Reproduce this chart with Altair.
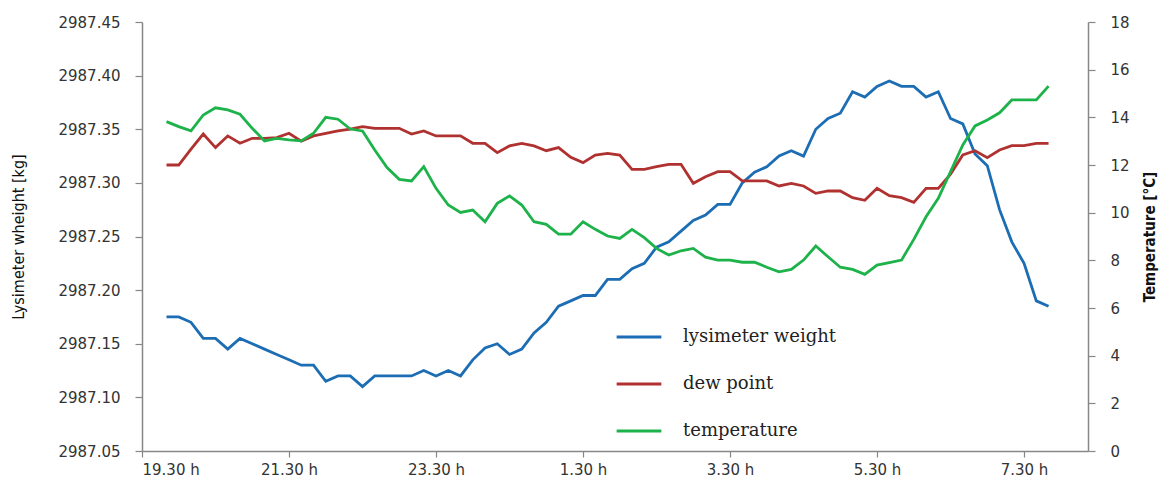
import altair as alt
import pandas as pd

# time grid: minutes after 19:30 (19:50 ... 07:50, every 10 min)
minutes = [20 + 10 * k for k in range(73)]

x_tick_labels = ["19.30 h", "21.30 h", "23.30 h", "1.30 h", "3.30 h", "5.30 h", "7.30 h"]
x_tick_values = [0, 2, 4, 6, 8, 10, 12]

weight = [
    2987.175, 2987.175, 2987.170, 2987.155, 2987.155, 2987.145, 2987.155, 2987.150, 2987.145, 2987.140,
    2987.135, 2987.130, 2987.130, 2987.115, 2987.120, 2987.120, 2987.110, 2987.120, 2987.120, 2987.120,
    2987.120, 2987.125, 2987.120, 2987.125, 2987.120, 2987.135, 2987.146, 2987.150, 2987.140, 2987.145,
    2987.160, 2987.170, 2987.185, 2987.190, 2987.195, 2987.195, 2987.210, 2987.210, 2987.220, 2987.225,
    2987.240, 2987.245, 2987.255, 2987.265, 2987.270, 2987.280, 2987.280, 2987.300, 2987.310, 2987.315,
    2987.325, 2987.330, 2987.325, 2987.350, 2987.360, 2987.365, 2987.385, 2987.380, 2987.390, 2987.395,
    2987.390, 2987.390, 2987.380, 2987.385, 2987.360, 2987.355, 2987.327, 2987.316, 2987.275, 2987.245,
    2987.225, 2987.190, 2987.185,
]

dew_point = [
    12.00, 12.00, 12.67, 13.30, 12.73, 13.22, 12.91, 13.12, 13.12, 13.15,
    13.33, 13.00, 13.22, 13.33, 13.43, 13.51, 13.61, 13.54, 13.54, 13.54,
    13.30, 13.43, 13.22, 13.22, 13.22, 12.91, 12.91, 12.52, 12.80, 12.91,
    12.80, 12.60, 12.73, 12.32, 12.10, 12.42, 12.49, 12.42, 11.82, 11.82,
    11.93, 12.03, 12.03, 11.23, 11.51, 11.72, 11.72, 11.33, 11.33, 11.33,
    11.12, 11.23, 11.12, 10.81, 10.91, 10.91, 10.63, 10.52, 11.02, 10.71,
    10.63, 10.43, 11.02, 11.02, 11.62, 12.42, 12.60, 12.31, 12.63, 12.81,
    12.81, 12.91, 12.91,
]

temperature = [
    13.82, 13.61, 13.43, 14.10, 14.40, 14.31, 14.13, 13.54, 13.01, 13.12,
    13.05, 13.01, 13.33, 14.00, 13.92, 13.51, 13.43, 12.63, 11.89, 11.40,
    11.33, 11.93, 11.02, 10.32, 10.01, 10.11, 9.62, 10.39, 10.70, 10.32,
    9.62, 9.51, 9.10, 9.10, 9.62, 9.30, 9.02, 8.92, 9.30, 8.95,
    8.50, 8.22, 8.40, 8.50, 8.13, 8.01, 8.01, 7.92, 7.92, 7.71,
    7.52, 7.62, 8.01, 8.60, 8.15, 7.71, 7.62, 7.41, 7.80, 7.90,
    8.01, 8.88, 9.83, 10.60, 11.72, 12.84, 13.64, 13.89, 14.19, 14.73,
    14.73, 14.73, 15.31,
]

series_names = ["lysimeter weight", "dew point", "temperature"]
series_colors = ["#1c6db3", "#b03230", "#1db24a"]

left_ticks = [2987.05, 2987.10, 2987.15, 2987.20, 2987.25, 2987.30, 2987.35, 2987.40, 2987.45]
right_ticks = [0, 2, 4, 6, 8, 10, 12, 14, 16, 18]

hours = [m / 60 for m in minutes]
df_w = pd.DataFrame({"t": hours, "value": weight, "series": series_names[0]})
df_r = pd.concat([
    pd.DataFrame({"t": hours, "value": dew_point, "series": series_names[1]}),
    pd.DataFrame({"t": hours, "value": temperature, "series": series_names[2]}),
])

label_expr = "[" + ",".join("'%s'" % s for s in x_tick_labels) + "][round(datum.value/2)]"

axis_common = dict(
    domainColor="#878787", domainWidth=1.5, tickColor="#878787", tickWidth=1.2,
    labelColor="#333333", labelFont="DejaVu Sans", labelFontSize=15, grid=False,
)

x_enc = alt.X(
    "t:Q",
    scale=alt.Scale(domain=[0, 12.87], nice=False, zero=False),
    axis=alt.Axis(values=x_tick_values, labelExpr=label_expr, title=None,
                  tickSize=6, labelPadding=5, **axis_common),
)

color_enc = alt.Color(
    "series:N",
    scale=alt.Scale(domain=series_names, range=series_colors),
    legend=alt.Legend(
        title=None, orient="none", legendX=473, legendY=291,
        symbolType="stroke", symbolStrokeWidth=3, symbolSize=2000,
        labelFont="DejaVu Serif", labelFontSize=18, labelColor="#222222",
        labelOffset=20, rowPadding=14, padding=0,
    ),
)

left = alt.Chart(df_w).mark_line(strokeWidth=2.8).encode(
    x=x_enc,
    y=alt.Y(
        "value:Q",
        scale=alt.Scale(domain=[2987.05, 2987.45], nice=False, zero=False),
        axis=alt.Axis(orient="left", values=left_ticks, format=".2f",
                      title="Lysimeter wheight [kg]", titleFont="Liberation Sans Narrow, DejaVu Sans Condensed, sans-serif",
                      titleFontSize=16, titleFontWeight="normal", titleColor="#111111",
                      titleX=-116, titleAngle=-90, tickSize=7, labelPadding=15, **axis_common),
    ),
    color=color_enc,
)

right = alt.Chart(df_r).mark_line(strokeWidth=2.8).encode(
    x=x_enc,
    y=alt.Y(
        "value:Q",
        scale=alt.Scale(domain=[0, 18], nice=False, zero=True),
        axis=alt.Axis(orient="right", values=right_ticks, format="d",
                      title="Temperature [°C]", titleFont="Liberation Sans Narrow, DejaVu Sans Condensed, sans-serif",
                      titleFontSize=15, titleFontWeight="bold", titleColor="#111111",
                      titleX=69, titleAngle=-90, titleBaseline="bottom",
                      tickSize=7, labelPadding=15, **axis_common),
    ),
    color=color_enc,
)

chart = alt.layer(left, right).resolve_scale(y="independent").properties(
    width=946, height=429,
    autosize=alt.AutoSizeParams(type="none"),
    padding={"left": 134, "top": 14, "right": 73, "bottom": 28},
).configure_view(stroke=None)

chart.save("out.html", embed_options={"renderer": "svg", "actions": False})
